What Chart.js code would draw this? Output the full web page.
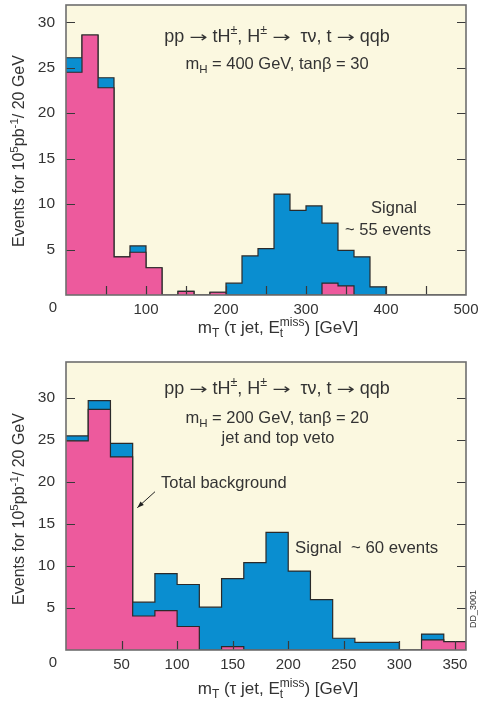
<!DOCTYPE html>
<html>
<head>
<meta charset="utf-8">
<script src="https://cdn.jsdelivr.net/npm/chart.js@4.4.1/dist/chart.umd.min.js"></script>
<style>
  html,body{margin:0;padding:0;background:#fff;}
  #wrap{position:relative;width:480px;height:704px;}
  canvas{position:absolute;left:0;}
</style>
</head>
<body>
<div id="wrap">
  <canvas id="c1" width="480" height="350" style="top:0"></canvas>
  <canvas id="c2" width="480" height="354" style="top:350px"></canvas>
</div>
<script>
// ---------------- DATA ----------------
// Upper panel: m_H = 400 GeV, tanβ = 30 ; 20 GeV bins from 0 to 500 GeV
const topBinEdges = [0,20,40,60,80,100,120,140,160,180,200,220,240,260,280,300,320,340,360,380,400,420,440,460,480,500];
const topTotal      = [26.1,28.6,23.9,4.2,5.4,3.0,0,0.4,0,0.3,1.3,4.3,5.1,11.1,9.3,9.8,7.9,4.9,4.2,0.9,0,0,0,0,0];
const topBackground = [24.5,28.6,22.8,4.2,4.7,3.0,0,0.4,0,0.3,0,0,0,0,0,0,1.3,1.0,0,0,0,0,0,0,0];

// Lower panel: m_H = 200 GeV, tanβ = 20, jet and top veto ; 20 GeV bins from 0 to 360 GeV
const botBinEdges = [0,20,40,60,80,100,120,140,160,180,200,220,240,260,280,300,320,340,360];
const botTotal      = [25.5,29.7,24.6,5.7,9.1,7.8,5.1,8.5,10.4,14.0,9.4,6.0,1.4,0.9,0.9,0,1.9,1.0];
const botBackground = [24.9,28.65,23.0,4.05,4.7,2.8,0,0.4,0,0,0,0,0,0,0,0,1.2,1.0];

// ---------------- STYLE ----------------
const FF = "'Liberation Sans', Arial, Helvetica, sans-serif";
const FA = "'DejaVu Sans', 'Liberation Sans', sans-serif";
const PINK = '#ED5A9D';
const BLUE = '#0A8ED0';
const CREAM = '#FBF8E0';
const EDGE = '#2a2a2a';
const TXT = '#333333';

function histPoints(edges, vals){
  const pts = vals.map((v,i)=>({x:edges[i], y:v}));
  pts.push({x:edges[edges.length-1], y:0});
  return pts;
}

function drawRich(ctx, segs, x, y, align){
  let cur = 0, total = 0, hold = null;
  const items = [];
  for (const s of segs){
    ctx.font = s.size + 'px ' + (s.f || FF);
    const w = ctx.measureText(s.t).width * (s.sx || 1);
    items.push({s, x:cur, w});
    if (s.hold){ hold = w; }
    else {
      const adv = hold !== null ? Math.max(hold, w) : w;
      hold = null;
      cur += adv;
    }
    total = Math.max(total, cur);
  }
  let x0 = x;
  if (align === 'center') x0 = x - total/2;
  else if (align === 'right') x0 = x - total;
  ctx.textAlign = 'left';
  ctx.textBaseline = 'alphabetic';
  for (const it of items){
    ctx.font = it.s.size + 'px ' + (it.s.f || FF);
    if (it.s.sx){
      ctx.save();
      ctx.translate(x0 + it.x, y + (it.s.dy || 0));
      ctx.scale(it.s.sx, 1);
      ctx.fillText(it.s.t, 0, 0);
      ctx.restore();
    } else {
      ctx.fillText(it.s.t, x0 + it.x, y + (it.s.dy || 0));
    }
  }
}

const yTitleSegs = [
  {t:'Events for 10', size:16},
  {t:'5', size:11.5, dy:-6},
  {t:'pb', size:16},
  {t:'-1', size:11.5, dy:-6},
  {t:'/ 20 GeV', size:16}
];
const xTitleSegs = [
  {t:'m', size:17},
  {t:'T', size:12, dy:4},
  {t:' (\u03C4 jet, E', size:17},
  {t:'t', size:12, dy:4, hold:true},
  {t:'miss', size:12, dy:-7},
  {t:') [GeV]', size:17}
];
const ARROW = {t:'\u2192', size:15, f:FA, sx:1.45, dy:0};
const procSegs = [
  {t:'pp ', size:18},
  ARROW,
  {t:' tH', size:18},
  {t:'\u00B1', size:12.5, dy:-8.5},
  {t:', H', size:18},
  {t:'\u00B1', size:12.5, dy:-8.5},
  {t:' ', size:18},
  ARROW,
  {t:'  \u03C4\u03BD, t ', size:18},
  ARROW,
  {t:' qqb', size:18}
];

const deco = {
  id:'deco',
  beforeDraw(chart, args, opts){
    const {ctx, chartArea:a} = chart;
    ctx.save();
    ctx.fillStyle = CREAM;
    ctx.fillRect(a.left, a.top, a.right-a.left, a.bottom-a.top);
    ctx.restore();
  },
  afterDraw(chart, args, opts){
    const {ctx, chartArea:a} = chart;
    const xs = chart.scales.x, ys = chart.scales.y;
    ctx.save();
    // inward tick marks
    ctx.strokeStyle = '#3a3a3a';
    ctx.lineWidth = 1.2;
    ctx.beginPath();
    for (const t of xs.ticks){
      const px = Math.round(xs.getPixelForValue(t.value)) + 0.5;
      if (px <= a.left+1 || px >= a.right-1) continue;
      ctx.moveTo(px, a.bottom); ctx.lineTo(px, a.bottom - 9);
    }
    for (const t of ys.ticks){
      const py = Math.round(ys.getPixelForValue(t.value)) + 0.5;
      if (py >= a.bottom-1 || py <= a.top+1) continue;
      ctx.moveTo(a.left, py); ctx.lineTo(a.left + 9, py);
      ctx.moveTo(a.right, py); ctx.lineTo(a.right - 9, py);
    }
    ctx.stroke();
    // frame
    ctx.strokeStyle = '#6e6e6e';
    ctx.lineWidth = 1.6;
    ctx.strokeRect(a.left, a.top, a.right-a.left, a.bottom-a.top);

    ctx.fillStyle = TXT;
    // shared origin label
    ctx.font = '15px ' + FF;
    ctx.textAlign = 'center';
    ctx.textBaseline = 'middle';
    ctx.fillText('0', a.left - 13, a.bottom + 13);

    // axis titles
    ctx.save();
    ctx.translate(24, opts.yTitleY);
    ctx.rotate(-Math.PI/2);
    drawRich(ctx, yTitleSegs, 0, 0, 'center');
    ctx.restore();
    drawRich(ctx, xTitleSegs, 278, opts.xTitleY, 'center');

    // annotations
    for (const n of opts.notes){
      drawRich(ctx, n.segs, n.x, n.y, n.align || 'center');
    }
    if (opts.arrow){
      const [x1,y1,x2,y2] = opts.arrow;
      ctx.strokeStyle = '#222'; ctx.fillStyle = '#222'; ctx.lineWidth = 1;
      ctx.beginPath(); ctx.moveTo(x1,y1); ctx.lineTo(x2,y2); ctx.stroke();
      const ang = Math.atan2(y2-y1, x2-x1);
      ctx.beginPath();
      ctx.moveTo(x2,y2);
      ctx.lineTo(x2 - 7*Math.cos(ang-0.35), y2 - 7*Math.sin(ang-0.35));
      ctx.lineTo(x2 - 7*Math.cos(ang+0.35), y2 - 7*Math.sin(ang+0.35));
      ctx.closePath(); ctx.fill();
    }
    if (opts.tag){
      ctx.save();
      ctx.fillStyle = TXT;
      ctx.translate(opts.tag.x, opts.tag.y);
      ctx.rotate(-Math.PI/2);
      ctx.font = '9px ' + FF;
      ctx.textAlign = 'center'; ctx.textBaseline = 'middle';
      ctx.fillText(opts.tag.t, 0, 0);
      ctx.restore();
    }
    ctx.restore();
  }
};

function makeChart(id, edges, total, bkg, cfg){
  return new Chart(document.getElementById(id), {
    type:'line',
    data:{datasets:[
      {label:'Total background', data:histPoints(edges, bkg), backgroundColor:PINK, fill:'origin'},
      {label:'Signal + background', data:histPoints(edges, total), backgroundColor:BLUE, fill:'origin'}
    ]},
    options:{
      responsive:false, animation:false, devicePixelRatio:1,
      layout:{padding:{left:0, right:14, top:cfg.padTop, bottom:0}},
      elements:{
        point:{radius:0, hoverRadius:0},
        line:{tension:0, borderWidth:1.2, borderColor:EDGE, stepped:'before', borderJoinStyle:'miter'}
      },
      plugins:{legend:{display:false}, tooltip:{enabled:false}, deco:cfg.deco},
      events:[],
      scales:{
        x:{type:'linear', min:0, max:edges[edges.length-1],
           grid:{display:false, drawTicks:false}, border:{display:false},
           ticks:{stepSize:50, autoSkip:false, includeBounds:false, maxRotation:0, padding:cfg.xPad,
                  color:TXT, font:{size:15, family:FF},
                  callback:cfg.xLabel},
           afterFit(s){ s.height = cfg.xHeight; s.paddingLeft = 0; s.paddingRight = 0; }
        },
        y:{type:'linear', min:0, max:cfg.yMax,
           grid:{display:false, drawTicks:false}, border:{display:false},
           ticks:{stepSize:5, includeBounds:false, padding:11, color:TXT, font:{size:15.5, family:FF},
                  callback:v => v === 0 ? '' : v},
           afterFit(s){ s.width = 66; s.paddingTop = 0; s.paddingBottom = 0; }
        }
      }
    },
    plugins:[deco]
  });
}

makeChart('c1', topBinEdges, topTotal, topBackground, {
  padTop:5, xHeight:55, xPad:6, yMax:31.9,
  xLabel:v => (v !== 0 && v % 100 === 0) ? v : '',
  deco:{
    yTitleY:151, xTitleY:333,
    notes:[
      {segs:procSegs, x:277, y:42},
      {segs:[{t:'m', size:16.5},{t:'H', size:11.5, dy:4},{t:' = 400 GeV, tan\u03B2 = 30', size:16.5}], x:277, y:69},
      {segs:[{t:'Signal', size:16.5}], x:394, y:213},
      {segs:[{t:'~ 55 events', size:16.5}], x:388, y:235}
    ]
  }
});

makeChart('c2', botBinEdges, botTotal, botBackground, {
  padTop:12, xHeight:54, xPad:6, yMax:34.3,
  xLabel:v => v === 0 ? '' : v,
  deco:{
    yTitleY:159, xTitleY:344,
    notes:[
      {segs:procSegs, x:277, y:44},
      {segs:[{t:'m', size:16.5},{t:'H', size:11.5, dy:4},{t:' = 200 GeV, tan\u03B2 = 20', size:16.5}], x:277, y:73},
      {segs:[{t:'jet and top veto', size:16.5}], x:278, y:93},
      {segs:[{t:'Total background', size:16.5}], x:161, y:138, align:'left'},
      {segs:[{t:'Signal  ~ 60 events', size:16.8}], x:295, y:203, align:'left'}
    ],
    arrow:[155, 141.7, 137.3, 157.7],
    tag:{t:'DD_3001', x:474, y:259}
  }
});
</script>
</body>
</html>
